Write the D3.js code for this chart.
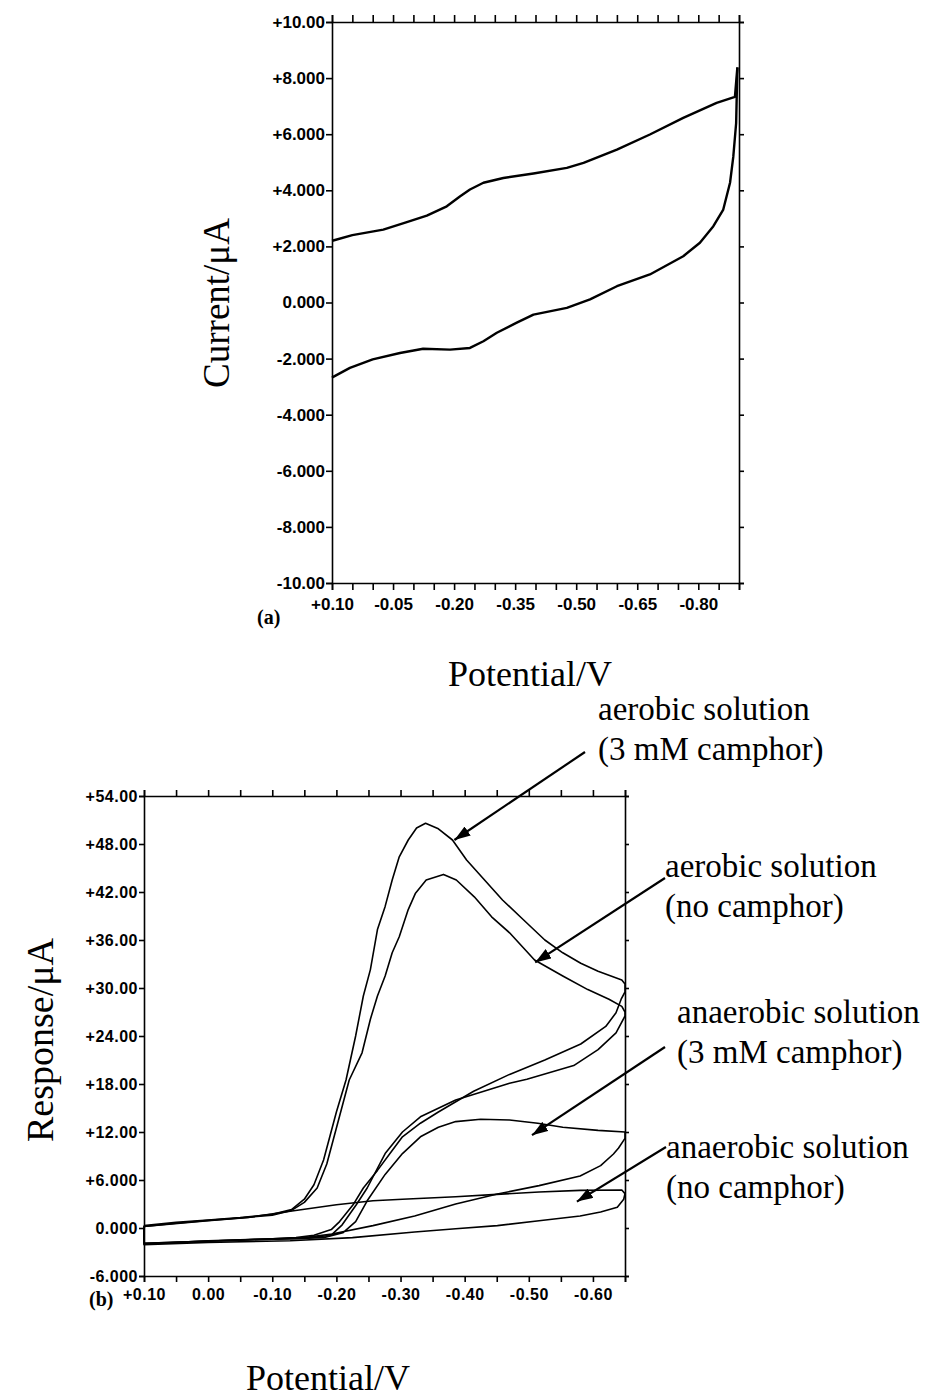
<!DOCTYPE html>
<html><head><meta charset="utf-8">
<script src="https://cdn.jsdelivr.net/npm/d3@7"></script>
<style>body{margin:0;background:#fff}svg{display:block}</style>
</head><body>
<svg id="c" width="927" height="1397"></svg>
<script>
// ---------- DATA: panel (a) ----------
const aUpperV = [0.10,0.097,0.05,-0.026,-0.08,-0.133,-0.182,-0.215,-0.239,-0.272,-0.321,-0.395,-0.477,-0.518,-0.60,-0.681,-0.763,-0.845,-0.89,-0.896];
const aUpperI = [2.20,2.21,2.40,2.60,2.85,3.10,3.43,3.79,4.03,4.27,4.44,4.60,4.80,4.98,5.45,5.99,6.58,7.12,7.33,8.38];
const aLowerV = [-0.896,-0.893,-0.886,-0.878,-0.861,-0.837,-0.804,-0.763,-0.681,-0.60,-0.534,-0.477,-0.395,-0.354,-0.305,-0.272,-0.239,-0.19,-0.124,-0.067,0.0,0.056,0.097,0.10];
const aLowerI = [8.38,6.40,5.20,4.27,3.30,2.72,2.13,1.65,1.00,0.58,0.11,-0.19,-0.43,-0.72,-1.08,-1.38,-1.62,-1.68,-1.65,-1.80,-2.03,-2.33,-2.65,-2.68];
const aXTicks = [0.10,0.05,0.00,-0.05,-0.10,-0.15,-0.20,-0.25,-0.30,-0.35,-0.40,-0.45,-0.50,-0.55,-0.60,-0.65,-0.70,-0.75,-0.80,-0.85,-0.90];
const aXLabelVals = [0.10,-0.05,-0.20,-0.35,-0.50,-0.65,-0.80];
const aXLabels = ["+0.10","-0.05","-0.20","-0.35","-0.50","-0.65","-0.80"];
const aYTicks = [10,8,6,4,2,0,-2,-4,-6,-8,-10];
const aYLabels = ["+10.00","+8.000","+6.000","+4.000","+2.000","0.000","-2.000","-4.000","-6.000","-8.000","-10.00"];

// ---------- DATA: panel (b) ----------
const aer3V = [0.10,0.05,0.0,-0.05,-0.10,-0.13,-0.15,-0.165,-0.18,-0.19,-0.20,-0.215,-0.23,-0.242,-0.253,-0.264,-0.276,-0.287,-0.298,-0.312,-0.325,-0.339,-0.359,-0.381,-0.403,-0.431,-0.459,-0.492,-0.525,-0.553,-0.581,-0.608,-0.645,-0.65,
  -0.65,-0.644,-0.636,-0.62,-0.581,-0.525,-0.47,-0.414,-0.359,-0.331,-0.303,-0.287,-0.264,-0.242,-0.226,-0.205,-0.192,-0.165,-0.137,-0.10,0.0,0.10,0.10];
const aer3I = [0.3,0.7,1.0,1.3,1.7,2.3,3.6,5.4,8.5,11.5,14.5,18.5,24.0,29.0,32.3,37.3,40.2,43.5,46.4,48.5,50.0,50.6,49.9,48.5,46.0,43.5,41.0,38.5,36.0,34.4,33.1,32.1,31.0,30.5,
  29.5,28.6,26.9,25.2,23.0,21.0,19.2,17.1,14.5,13.1,11.4,9.7,7.2,5.0,2.9,0.8,-0.2,-0.9,-1.2,-1.35,-1.6,-2.0,0.3];
const aer0V = [0.10,0.05,0.0,-0.05,-0.10,-0.13,-0.15,-0.17,-0.185,-0.195,-0.205,-0.22,-0.24,-0.253,-0.264,-0.276,-0.287,-0.298,-0.312,-0.323,-0.34,-0.367,-0.387,-0.415,-0.442,-0.47,-0.509,-0.553,-0.592,-0.625,-0.645,-0.65,
  -0.65,-0.636,-0.608,-0.57,-0.497,-0.47,-0.386,-0.331,-0.303,-0.276,-0.248,-0.231,-0.209,-0.192,-0.15,-0.05,0.10,0.10];
const aer0I = [0.2,0.6,0.95,1.25,1.6,2.2,3.2,5.0,8.0,11.0,14.0,18.5,21.9,26.1,29.0,31.5,34.4,36.4,39.8,41.8,43.5,44.2,43.5,41.4,38.9,36.9,33.5,31.5,29.8,28.6,27.7,27.0,
  26.5,24.4,22.3,20.3,18.6,18.1,16.0,13.9,12.0,9.3,5.0,2.9,0.4,-0.9,-1.3,-1.5,-1.9,0.2];
const ana3V = [0.10,0.0,-0.10,-0.18,-0.21,-0.23,-0.248,-0.276,-0.303,-0.331,-0.359,-0.386,-0.425,-0.47,-0.514,-0.553,-0.608,-0.65,
  -0.65,-0.64,-0.632,-0.612,-0.58,-0.516,-0.451,-0.386,-0.322,-0.257,-0.193,-0.15,-0.05,0.10];
const ana3I = [-2.0,-1.65,-1.4,-1.2,-0.6,0.8,3.4,6.7,9.3,11.4,12.6,13.3,13.6,13.5,13.1,12.6,12.2,12.0,
  11.2,10.0,9.25,7.8,6.5,5.3,4.25,3.0,1.5,0.3,-0.75,-1.2,-1.5,-1.9];
const ana0V = [0.10,0.0,-0.063,-0.128,-0.20,-0.257,-0.303,-0.386,-0.45,-0.516,-0.58,-0.645,-0.65,-0.648,-0.638,-0.612,-0.58,-0.516,-0.451,-0.386,-0.322,-0.225,-0.128,0.0,0.10,0.10];
const ana0I = [0.2,0.9,1.33,2.1,2.9,3.4,3.6,3.9,4.2,4.5,4.7,4.75,4.3,3.6,2.6,2.0,1.5,0.9,0.3,-0.1,-0.5,-1.2,-1.6,-1.8,-2.1,0.2];
const bXTicks = [0.10,0.05,0.00,-0.05,-0.10,-0.15,-0.20,-0.25,-0.30,-0.35,-0.40,-0.45,-0.50,-0.55,-0.60,-0.65];
const bXLabelVals = [0.10,0.00,-0.10,-0.20,-0.30,-0.40,-0.50,-0.60];
const bXLabels = ["+0.10","0.00","-0.10","-0.20","-0.30","-0.40","-0.50","-0.60"];
const bYTicks = [54,48,42,36,30,24,18,12,6,0,-6];
const bYLabels = ["+54.00","+48.00","+42.00","+36.00","+30.00","+24.00","+18.00","+12.00","+6.000","0.000","-6.000"];
const annotations = [
  {lines:["aerobic solution","(3 mM camphor)"]},
  {lines:["aerobic solution","(no camphor)"]},
  {lines:["anaerobic solution","(3 mM camphor)"]},
  {lines:["anaerobic solution","(no camphor)"]}
];
// arrow targets in data units (V, µA)
const arrowTipV = [-0.384,-0.510,-0.505,-0.575];
const arrowTipI = [48.5,33.2,11.6,3.3];

// ---------- DRAW ----------
const svg = d3.select("#c");
const serif = "'Liberation Serif','Times New Roman',serif";
const narrowFont = "'Liberation Sans Narrow','Liberation Sans',Arial,sans-serif";
const sansFont = "'Liberation Sans',Arial,sans-serif";

svg.append("defs").append("marker").attr("id","ah").attr("viewBox","0 0 10 10")
  .attr("refX",10).attr("refY",5).attr("markerWidth",16).attr("markerHeight",11)
  .attr("markerUnits","userSpaceOnUse").attr("orient","auto").attr("preserveAspectRatio","none")
  .append("path").attr("d","M0,0L10,5L0,10Z").attr("fill","#000");

function panel(o){
  const g = svg.append("g");
  const x = d3.scaleLinear().domain(o.xd).range(o.xr);
  const y = d3.scaleLinear().domain(o.yd).range(o.yr);
  const st = s => s.attr("stroke-width",1.6).call(s=>s.selectAll("path,line").attr("stroke","#000"));
  const lab = s => s.selectAll("text").attr("font-family",o.ff).attr("font-weight","bold")
      .attr("font-size",o.fs).attr("fill","#000").attr("letter-spacing",o.ls);
  g.append("g").attr("transform",`translate(0,${o.yr[1]})`)
    .call(d3.axisTop(x).tickValues(o.xTicks).tickSize(o.tl).tickFormat(""))
    .call(st);
  g.append("g").attr("transform",`translate(0,${o.yr[0]})`)
    .call(d3.axisBottom(x).tickValues(o.xTicks).tickSize(o.tl).tickFormat(""))
    .call(st);
  g.append("g").attr("transform",`translate(0,${o.yr[0]})`)
    .call(d3.axisBottom(x).tickValues(o.xLabelVals).tickSize(0).tickPadding(o.xpad)
      .tickFormat((d,i)=>o.xLabels[i]))
    .call(s=>s.select(".domain").remove())
    .call(lab);
  g.append("g").attr("transform",`translate(${o.xr[0]},0)`)
    .call(d3.axisLeft(y).tickValues(o.yTicks).tickSize(o.tl-1).tickPadding(1)
      .tickFormat((d,i)=>o.yLabels[i]))
    .call(st).call(lab);
  g.append("g").attr("transform",`translate(${o.xr[1]},0)`)
    .call(d3.axisRight(y).tickValues(o.yTicks).tickSize(o.tl-2).tickFormat(""))
    .call(st);
  const line = d3.line().x(d=>x(d[0])).y(d=>y(d[1]));
  o.series.forEach(s=>{
    g.append("path").datum(s[0].map((v,i)=>[v,s[1][i]])).attr("d",line)
      .attr("fill","none").attr("stroke","#000").attr("stroke-width",o.lw).attr("stroke-linejoin","round");
  });
  return {x,y};
}

panel({xd:[0.10,-0.90],xr:[332,739],yd:[-10,10],yr:[583,22],tl:7,xpad:15,ff:narrowFont,fs:17,ls:"0px",lw:2.4,
  xTicks:aXTicks,xLabelVals:aXLabelVals,xLabels:aXLabels,yTicks:aYTicks,yLabels:aYLabels,
  series:[[aUpperV,aUpperI],[aLowerV,aLowerI]]});

const pb = panel({xd:[0.10,-0.65],xr:[144,625],yd:[-6,54],yr:[1276,796],tl:6,xpad:13,ff:sansFont,fs:16,ls:"0.5px",lw:1.6,
  xTicks:bXTicks,xLabelVals:bXLabelVals,xLabels:bXLabels,yTicks:bYTicks,yLabels:bYLabels,
  series:[[aer3V,aer3I],[aer0V,aer0I],[ana3V,ana3I],[ana0V,ana0I]]});

function txt(x,y,s,fs,rot,anchor,weight){
  const t = svg.append("text").attr("x",x).attr("y",y).text(s).attr("font-family",serif)
    .attr("font-size",fs).attr("text-anchor",anchor||"middle").attr("fill","#000");
  if(weight) t.attr("font-weight",weight);
  if(rot) t.attr("transform",`rotate(${rot},${x},${y})`);
  return t;
}
txt(229,303,"Current/μA",37,-90);
txt(530,686,"Potential/V",36,0);
txt(257,624,"(a)",20,0,"start","bold");
txt(53,1040,"Response/μA",38,-90);
txt(328,1390,"Potential/V",36,0);
txt(89,1306,"(b)",20,0,"start","bold");

const annX = [598,665,677,666];
const annY = [720,877,1023,1158];
const arrowFrom = [[585,752],[665,878],[665,1047],[666,1147]];
annotations.forEach((a,i)=>{
  a.lines.forEach((l,j)=>txt(annX[i],annY[i]+j*40,l,33,0,"start"));
  svg.append("line").attr("x1",arrowFrom[i][0]).attr("y1",arrowFrom[i][1])
    .attr("x2",pb.x(arrowTipV[i])).attr("y2",pb.y(arrowTipI[i]))
    .attr("stroke","#000").attr("stroke-width",2.2).attr("marker-end","url(#ah)");
});
</script>
</body></html>
